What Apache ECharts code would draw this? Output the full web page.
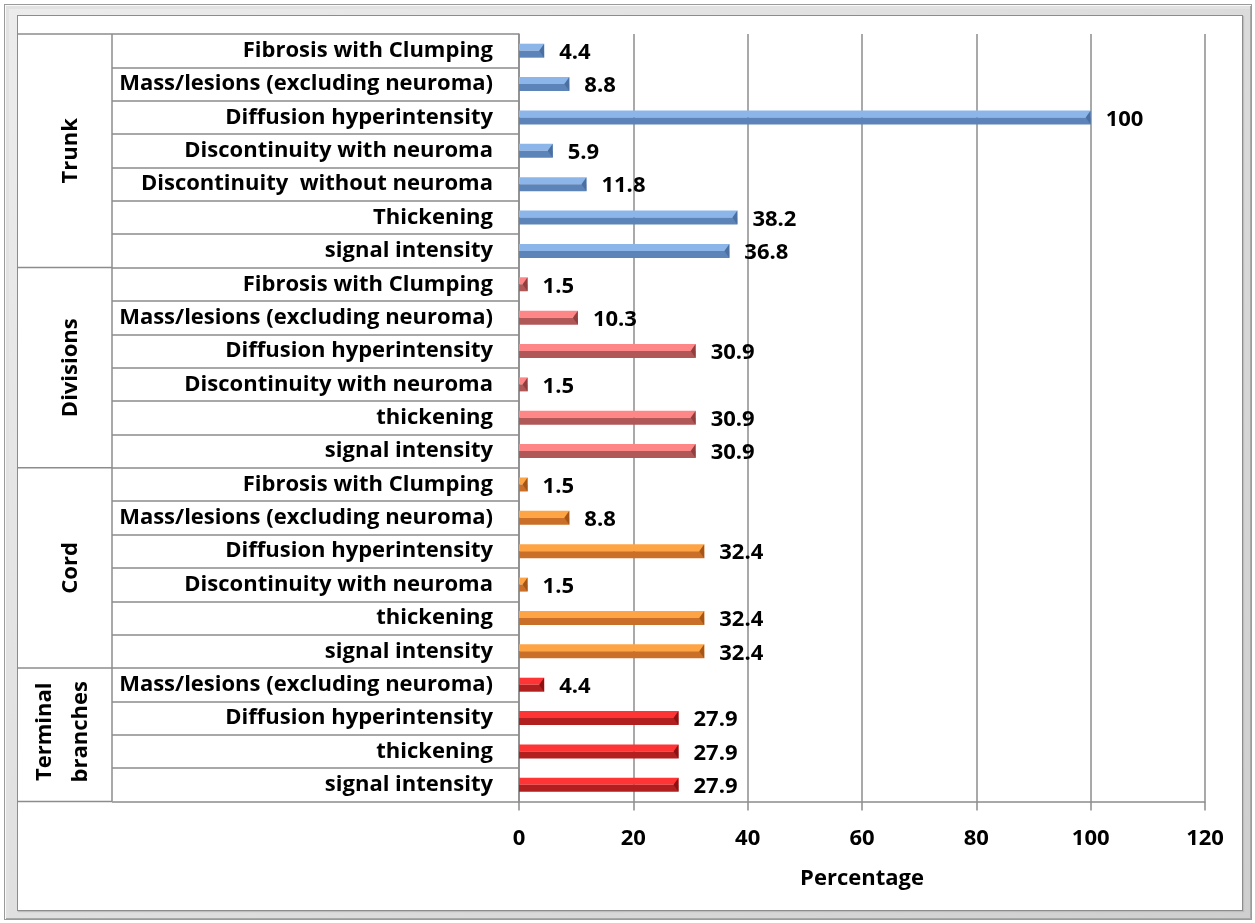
<!DOCTYPE html>
<html>
<head>
<meta charset="utf-8">
<script src="https://cdn.jsdelivr.net/npm/echarts@6/dist/echarts.min.js"></script>
<style>
  html, body { margin: 0; padding: 0; background: #fff; }
  #frame {
    position: absolute; left: 4px; top: 4px; width: 1246px; height: 914px;
    background: linear-gradient(135deg, #ececec, #cfcfcf);
    border: 1px solid #9a9a9a;
    box-shadow: inset 1px 1px 0 #fafafa, inset -1px -1px 0 #a8a8a8, inset 4px 4px 0 #e2e2e2;
  }
  #inner {
    position: absolute; left: 17px; top: 15px; width: 1224px; height: 894px;
    background: #fff; border: 1px solid #8c8c8c;
    box-shadow: 1px 1px 1px #bdbdbd;
  }
  #chart { position: absolute; left: 0; top: 0; width: 1255px; height: 923px; }
</style>
</head>
<body>
<div id="frame"></div>
<div id="inner"></div>
<div id="chart"></div>
<script>
// Findings per brachial plexus segment (percentage of cases)
const groupNames = ['Trunk', 'Divisions', 'Cord', 'Terminal\nbranches'];

const trunkLabels = ['Fibrosis with Clumping', 'Mass/lesions (excluding neuroma)', 'Diffusion hyperintensity',
  'Discontinuity with neuroma', 'Discontinuity  without neuroma', 'Thickening', 'signal intensity'];
const trunkValues = [4.4, 8.8, 100, 5.9, 11.8, 38.2, 36.8];

const divisionLabels = ['Fibrosis with Clumping', 'Mass/lesions (excluding neuroma)', 'Diffusion hyperintensity',
  'Discontinuity with neuroma', 'thickening', 'signal intensity'];
const divisionValues = [1.5, 10.3, 30.9, 1.5, 30.9, 30.9];

const cordLabels = ['Fibrosis with Clumping', 'Mass/lesions (excluding neuroma)', 'Diffusion hyperintensity',
  'Discontinuity with neuroma', 'thickening', 'signal intensity'];
const cordValues = [1.5, 8.8, 32.4, 1.5, 32.4, 32.4];

const terminalLabels = ['Mass/lesions (excluding neuroma)', 'Diffusion hyperintensity', 'thickening', 'signal intensity'];
const terminalValues = [4.4, 27.9, 27.9, 27.9];

const xTicks = { min: 0, max: 120, interval: 20 };

// bevel palette per segment: light upper face, darker lower face, end facet
const palettes = [
  { top: '#8cb6ea', bottom: '#5c84b8', cap: '#4a70a2' },
  { top: '#ff8686', bottom: '#b05858', cap: '#933e3e' },
  { top: '#ffa444', bottom: '#c96f27', cap: '#a65515' },
  { top: '#ff3434', bottom: '#b11f1f', cap: '#8c1212' }
];

const groupLabels = [trunkLabels, divisionLabels, cordLabels, terminalLabels];
const groupValues = [trunkValues, divisionValues, cordValues, terminalValues];

const categories = [];
const rows = [];
groupLabels.forEach((labels, g) => {
  labels.forEach((name, i) => {
    rows.push([groupValues[g][i], categories.length, g]);
    categories.push(name);
  });
});

const FONT = 'Open Sans';
const LINE = '#8c8c8c';

const chart = echarts.init(document.getElementById('chart'), null, { renderer: 'canvas' });

chart.setOption({
  backgroundColor: 'transparent',
  animation: false,
  grid: { left: 519, right: 50, top: 34, bottom: 121.5, containLabel: false },
  xAxis: {
    type: 'value',
    min: xTicks.min, max: xTicks.max, interval: xTicks.interval,
    name: 'Percentage',
    nameLocation: 'middle',
    nameGap: 66,
    nameTextStyle: { fontFamily: FONT, fontWeight: 'bold', fontSize: 22, color: '#000' },
    axisLine: { show: true, lineStyle: { color: LINE, width: 1.5 } },
    axisTick: { show: true, length: 9, lineStyle: { color: LINE, width: 1.5 } },
    splitLine: { show: true, lineStyle: { color: LINE, width: 1.5 } },
    axisLabel: { margin: 26, fontFamily: FONT, fontWeight: 'bold', fontSize: 22, color: '#000' }
  },
  yAxis: {
    type: 'category',
    data: categories,
    inverse: true,
    axisLine: { show: true, lineStyle: { color: LINE, width: 1.5 } },
    axisTick: { show: true, length: 407, lineStyle: { color: LINE, width: 1.5 } },
    axisLabel: { margin: 26, fontFamily: FONT, fontWeight: 'bold', fontSize: 22, color: '#000' }
  },
  series: [{
    type: 'custom',
    data: rows,
    encode: { x: 0, y: 1 },
    renderItem: function (params, api) {
      const v = api.value(0);
      const idx = api.value(1);
      const p = palettes[api.value(2)];
      const a = api.coord([0, idx]);
      const b = api.coord([v, idx]);
      const h = 14;
      const x0 = a[0], x1 = b[0];
      const y0 = a[1] - h / 2;
      const w = x1 - x0;
      const capW = Math.min(5, w);
      const upper = Math.round(h * 0.47);
      return {
        type: 'group',
        children: [
          { type: 'rect', shape: { x: x0, y: y0, width: w, height: upper }, style: { fill: p.top } },
          { type: 'rect', shape: { x: x0, y: y0 + upper, width: w, height: h - upper }, style: { fill: p.bottom } },
          { type: 'polygon', shape: { points: [[x1 - capW, y0 + h / 2], [x1, y0], [x1, y0 + h]] }, style: { fill: p.cap } },
          {
            type: 'text',
            x: x1 + 15, y: a[1] + 2,
            style: {
              text: String(v), fill: '#000',
              font: 'bold 22px "' + FONT + '"',
              verticalAlign: 'middle', align: 'left'
            }
          }
        ]
      };
    }
  }]
});

// Segment column: separator lines and rotated segment names
const centers = categories.map((_, i) => chart.convertToPixel({ yAxisIndex: 0 }, i));
const band = centers[1] - centers[0];
const edge = i => centers[0] + (i - 0.5) * band;

const groupStarts = [];
let acc = 0;
groupLabels.forEach(l => { groupStarts.push(acc); acc += l.length; });
groupStarts.push(acc);

const graphics = [];
groupStarts.forEach(s => {
  const y = edge(s);
  graphics.push({ type: 'line', shape: { x1: 18, y1: y, x2: 112, y2: y }, style: { stroke: LINE, lineWidth: 1.5 } });
});
graphics.push({ type: 'line', shape: { x1: 112, y1: edge(0), x2: 112, y2: edge(acc) }, style: { stroke: LINE, lineWidth: 1.5 } });

groupNames.forEach((name, g) => {
  const yMid = (edge(groupStarts[g]) + edge(groupStarts[g + 1])) / 2;
  const twoLines = name.indexOf('\n') >= 0;
  graphics.push({
    type: 'text',
    x: twoLines ? 63 : 71, y: twoLines ? yMid - 3 : yMid,
    rotation: Math.PI / 2,
    style: {
      text: name, fill: '#000',
      font: 'bold 22px "' + FONT + '"',
      align: 'center', verticalAlign: 'middle',
      lineHeight: 36
    }
  });
});

chart.setOption({ graphic: graphics });
</script>
</body>
</html>
